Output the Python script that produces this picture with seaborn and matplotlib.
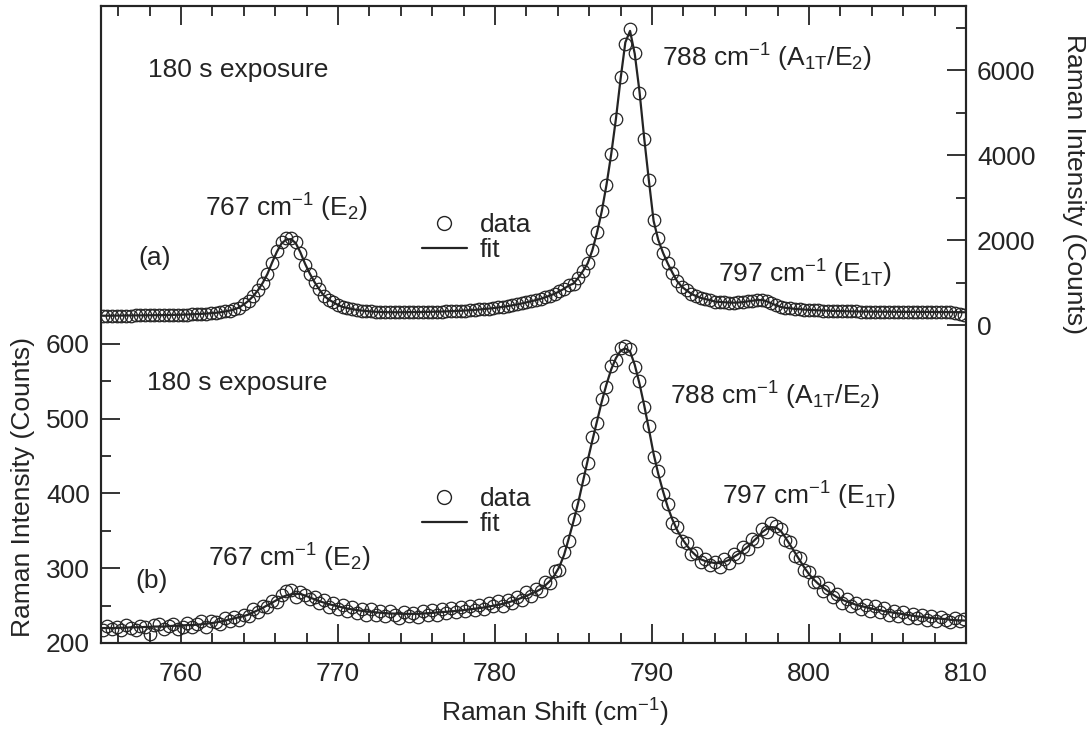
import numpy as np
import pandas as pd
import matplotlib
matplotlib.use("Agg")
import matplotlib.pyplot as plt
import seaborn as sns
from matplotlib.lines import Line2D

# Raman shift grid (cm^-1), one point every 0.3 cm^-1 (755.0 ... 809.9)
shift = np.round(np.linspace(755.0, 809.9, 184), 1)

# (a) upper spectrum, right axis (counts), 10 values per 3 cm^-1
counts_a = [218, 219, 219, 220, 221, 222, 223, 224, 225, 226,
            228, 229, 231, 233, 235, 237, 240, 243, 247, 251,
            257, 262, 269, 277, 287, 300, 318, 340, 370, 410,
            485, 570, 680, 820, 990, 1200, 1470, 1750, 1950, 2045,
            2040, 1960, 1700, 1420, 1210, 1010, 840, 690, 600, 535,
            470, 425, 400, 375, 355, 340, 328, 318, 311, 306,
            303, 301, 300, 300, 301, 302, 303, 305, 307, 309,
            311, 314, 317, 321, 325, 330, 335, 341, 348, 356,
            365, 375, 386, 398, 412, 427, 444, 463, 484, 507,
            533, 557, 585, 617, 652, 692, 738, 790, 855, 930,
            975, 1110, 1270, 1450, 1760, 2180, 2680, 3300, 4020, 4850,
            5830, 6620, 6960, 6400, 5450, 4380, 3420, 2480, 2050, 1700,
            1450, 1230, 1030, 900, 815, 735, 680, 640, 610, 585,
            552, 542, 535, 529, 526, 530, 540, 556, 572, 588,
            590, 560, 510, 465, 425, 405, 392, 380, 371, 363,
            356, 350, 345, 340, 336, 332, 329, 326, 323, 320,
            318, 316, 315, 314, 313, 312, 311, 311, 310, 310,
            309, 309, 308, 308, 307, 307, 306, 305, 304, 303,
            298, 282, 258, 245]
fit_a = [218, 219, 219, 220, 221, 222, 223, 224, 225, 226,
         228, 229, 231, 233, 235, 237, 240, 243, 247, 251,
         257, 262, 269, 277, 287, 300, 318, 340, 370, 410,
         485, 570, 680, 820, 990, 1200, 1470, 1720, 1920, 2010,
         2020, 1930, 1710, 1440, 1210, 1010, 840, 690, 600, 535,
         470, 425, 400, 375, 355, 340, 328, 318, 311, 306,
         303, 301, 300, 300, 301, 302, 303, 305, 307, 309,
         311, 314, 317, 321, 325, 330, 335, 341, 348, 356,
         365, 375, 386, 398, 412, 427, 444, 463, 484, 507,
         533, 557, 585, 617, 652, 692, 738, 790, 855, 930,
         975, 1110, 1270, 1450, 1760, 2180, 2680, 3300, 4020, 4850,
         5800, 6650, 6920, 6380, 5500, 4400, 3400, 2450, 2000, 1700,
         1450, 1230, 1030, 900, 815, 735, 680, 640, 610, 585,
         552, 542, 535, 529, 526, 530, 540, 556, 572, 585,
         588, 560, 510, 465, 425, 405, 392, 380, 371, 363,
         356, 350, 345, 340, 336, 332, 329, 326, 323, 320,
         318, 316, 315, 314, 313, 312, 311, 311, 310, 310,
         309, 309, 308, 308, 307, 307, 306, 305, 304, 303,
         302, 301, 300, 300]

# (b) lower spectrum, left axis (counts), 10 values per 3 cm^-1
counts_b = [218, 223, 219, 222, 217, 224, 220, 218, 223, 221,
            212, 224, 226, 219, 223, 225, 219, 222, 227, 221,
            226, 229, 222, 230, 228, 226, 233, 229, 235, 231,
            238, 236, 245, 241, 249, 248, 256, 255, 264, 269,
            271, 262, 268, 264, 259, 262, 253, 257, 248, 253,
            246, 251, 243, 248, 240, 246, 238, 245, 237, 243,
            236, 243, 238, 234, 242, 236, 240, 235, 243, 238,
            244, 237, 245, 240, 247, 241, 248, 243, 250, 244,
            251, 245, 253, 249, 256, 250, 258, 254, 262, 257,
            268, 263, 272, 269, 281, 280, 296, 298, 322, 337,
            366, 385, 420, 441, 476, 494, 527, 543, 570, 578,
            595, 597, 593, 569, 551, 515, 490, 449, 430, 399,
            386, 361, 355, 337, 334, 319, 320, 309, 312, 304,
            309, 302, 312, 307, 319, 315, 328, 326, 339, 337,
            352, 349, 360, 357, 352, 338, 335, 317, 314, 297,
            295, 281, 282, 270, 273, 261, 265, 254, 259, 250,
            254, 246, 251, 243, 249, 241, 247, 238, 243, 236,
            241, 234, 239, 233, 238, 231, 236, 229, 235, 231,
            228, 234, 229, 232]
fit_b = [220, 220, 220, 220, 220.5, 220.5, 221, 221, 221, 221.5,
         221.5, 222, 222, 222, 222.5, 223, 223, 223.5, 224, 224,
         224.5, 225, 226, 226.5, 227.5, 228.5, 230, 231.5, 233, 234.5,
         236, 238, 241, 244, 247, 250.5, 254, 257.5, 261, 263.5,
         265, 266, 265.5, 263.5, 261, 258.5, 256, 254, 252, 250.5,
         249, 247.5, 246, 245, 244, 243, 242.3, 241.5, 241, 240.5,
         240, 239.5, 239.3, 239, 239, 239, 239, 239, 239.5, 239.8,
         240.3, 240.7, 241.2, 241.7, 242.2, 242.8, 243.5, 244.2, 245, 245.8,
         246.5, 247.5, 248.8, 250, 251, 252.5, 254, 256, 258, 260.5,
         263, 266, 268.5, 272, 277, 283, 291, 302, 318, 340,
         363, 388, 416, 444, 471, 497, 523, 546, 566, 581,
         591, 594, 590, 572, 547, 518, 486, 453, 426, 403,
         382, 365, 351, 340, 331, 323, 317, 312, 309.5, 308,
         307, 307, 308.5, 311, 315, 319, 324, 329, 335, 341,
         348, 352.5, 355, 354.5, 350, 341, 331, 321, 311, 301,
         292, 285, 279, 274, 269.5, 265, 261, 258, 255.5, 253.5,
         251, 249.5, 248, 246.5, 245, 244, 242.5, 241.5, 240.5, 239.5,
         238.5, 237.5, 236.5, 235.5, 235, 234, 233.5, 233, 232.5, 232,
         231, 230.5, 230.3, 230]

df_a = pd.DataFrame({"shift": shift, "counts": counts_a, "fit": fit_a})
df_b = pd.DataFrame({"shift": shift, "counts": counts_b, "fit": fit_b})

sns.set_style("ticks")
plt.rcParams["font.family"] = ["Liberation Sans", "DejaVu Sans"]
plt.rcParams["mathtext.default"] = "regular"
plt.rcParams["axes.unicode_minus"] = False

ink = "#242424"
fs = 19
W, H = 1091, 729


def px(x, y):
    # pixel position (from top-left) -> figure fraction
    return x / W, 1 - y / H


fig = plt.figure(figsize=(W / 100, H / 100), dpi=100)
ax = fig.add_axes([101 / W, 1 - 643 / H, 865 / W, 637 / H])
ax2 = ax.twinx()

# lower spectrum (b)
sns.lineplot(data=df_b, x="shift", y="fit", ax=ax, color=ink, lw=1.6,
             estimator=None, sort=False)
sns.lineplot(data=df_b, x="shift", y="counts", ax=ax, color=ink, ls="",
             marker="o", ms=9, mfc="none", mec=ink, mew=0.9,
             estimator=None, sort=False)

# upper spectrum (a)
sns.lineplot(data=df_a, x="shift", y="fit", ax=ax2, color=ink, lw=1.6,
             estimator=None, sort=False)
sns.lineplot(data=df_a, x="shift", y="counts", ax=ax2, color=ink, ls="",
             marker="o", ms=9, mfc="none", mec=ink, mew=0.9,
             estimator=None, sort=False)

ax.set_xlim(754.9, 809.92)
ax.set_ylim(200, 1052)
ax2.set_ylim(-7482, 7506)

ax.set_xticks([760, 770, 780, 790, 800, 810])
ax.set_xticks(np.arange(756, 810, 2), minor=True)
ax.set_yticks([200, 300, 400, 500, 600])
ax.set_yticks([250, 350, 450, 550], minor=True)
ax2.set_yticks([0, 2000, 4000, 6000])
ax2.set_yticks([1000, 3000, 5000, 7000], minor=True)

ax.tick_params(axis="x", which="both", direction="in", top=True, bottom=True,
               colors=ink, labelsize=fs, pad=14, width=1.3)
ax.tick_params(axis="y", which="both", direction="in", left=True, right=False,
               colors=ink, labelsize=fs, pad=8, width=1.3)
ax2.tick_params(axis="y", which="both", direction="in", right=True,
                colors=ink, labelsize=fs, pad=8, width=1.3)
for a in (ax, ax2):
    a.tick_params(which="major", length=14)
    a.tick_params(which="minor", length=7)
    for sp in a.spines.values():
        sp.set_linewidth(1.5)
        sp.set_color(ink)

ax.set_xlabel("Raman Shift (cm$^{-1}$)", fontsize=fs, color=ink)
ax.xaxis.set_label_coords((555 - 101) / 865, -(697 - 643) / 637)

ax.set_ylabel("Raman Intensity (Counts)", fontsize=fs, color=ink)
ax.yaxis.label.set(rotation_mode="default", va="center", ha="center")
ax.yaxis.set_label_coords((23 - 101) / 865, (643 - 487) / 637)

ax2.set_ylabel("Raman Intensity (Counts)", fontsize=fs, color=ink, rotation=270)
ax2.yaxis.label.set(rotation_mode="default", va="center", ha="center")
ax2.yaxis.set_label_coords((1074 - 101) / 865, (643 - 184) / 637)

# peak labels; positions are pixels from the top-left corner
notes = [
    (148, 77, "180 s exposure"),
    (205, 217, "767 cm$^{-1}$ (E$_{2}$)"),
    (138, 265, "(a)"),
    (662, 67, "788 cm$^{-1}$ (A$_{1T}$/E$_{2}$)"),
    (718, 283, "797 cm$^{-1}$ (E$_{1T}$)"),
    (147, 390, "180 s exposure"),
    (208, 567, "767 cm$^{-1}$ (E$_{2}$)"),
    (135, 588, "(b)"),
    (670, 405, "788 cm$^{-1}$ (A$_{1T}$/E$_{2}$)"),
    (722, 505, "797 cm$^{-1}$ (E$_{1T}$)"),
]
for x, y, s in notes:
    fig.text(*px(x, y), s, fontsize=fs, color=ink, ha="left", va="baseline")

handles = [Line2D([], [], ls="", marker="o", ms=10, mfc="none", mec=ink, mew=1.0),
           Line2D([], [], color=ink, lw=1.6)]
leg_kw = dict(frameon=False, fontsize=fs, handlelength=1.7, handletextpad=0.5,
              labelspacing=0.05, borderpad=0, borderaxespad=0, loc="upper left",
              bbox_transform=fig.transFigure, labelcolor=ink)
ax2.legend(handles, ["data", "fit"], bbox_to_anchor=px(422, 213), **leg_kw)
ax.legend(handles, ["data", "fit"], bbox_to_anchor=px(422, 487), **leg_kw)

fig.savefig("out.png", dpi=100)
